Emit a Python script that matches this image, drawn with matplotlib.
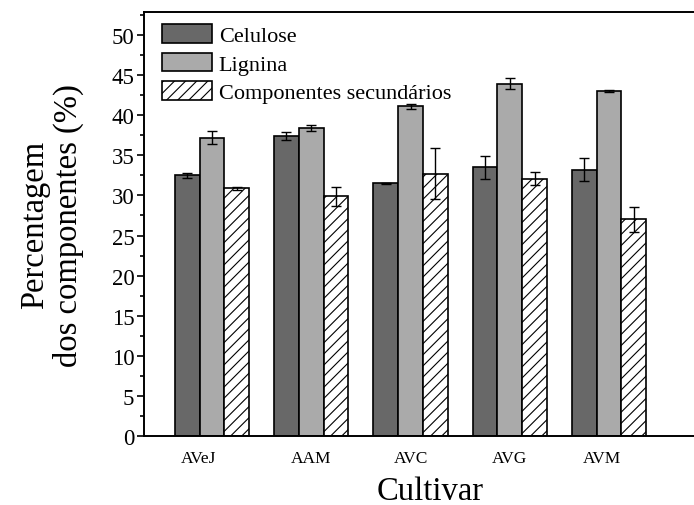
import numpy as np
import matplotlib
matplotlib.use("Agg")
import matplotlib.pyplot as plt
from matplotlib.ticker import MultipleLocator

plt.rcParams['font.family'] = ['Liberation Serif', 'DejaVu Serif']
plt.rcParams['hatch.linewidth'] = 0.8
plt.rcParams['hatch.color'] = 'black'

# composition per cultivar (%), mean and deviation
cultivars = ['AVeJ', 'AAM', 'AVC', 'AVG', 'AVM']
celulose = [32.5, 37.4, 31.5, 33.5, 33.2]
celulose_err = [0.3, 0.5, 0.1, 1.4, 1.4]
lignina = [37.2, 38.4, 41.1, 43.9, 43.0]
lignina_err = [0.8, 0.4, 0.3, 0.7, 0.1]
secundarios = [30.9, 29.9, 32.7, 32.1, 27.0]
secundarios_err = [0.2, 1.2, 3.2, 0.8, 1.5]

label_shift = [-0.14, 0, 0, 0, -0.07]

fig = plt.figure(figsize=(6.94, 5.06), dpi=100)
ax = fig.add_axes([0.2075, 0.1358, 0.7925, 0.8379])

x = np.arange(len(cultivars))
w = 0.25
series = [
    (celulose, celulose_err, 'Celulose', dict(color='#686868')),
    (lignina, lignina_err, 'Lignina', dict(color='#aaaaaa')),
    (secundarios, secundarios_err, 'Componentes secundários', dict(color='white', hatch='///')),
]
for k, (vals, errs, name, style) in enumerate(series):
    pos = x + (k - 1) * w
    ax.bar(pos, vals, w, edgecolor='black', linewidth=1.2, label=name, **style)
    ax.errorbar(pos, vals, yerr=errs, fmt='none', ecolor='black',
                elinewidth=1.0, capsize=3.3, capthick=1.0)

ax.set_xlim(-0.685, 4.856)
ax.set_ylim(0, 52.8)
ax.yaxis.set_major_locator(MultipleLocator(5))
ax.yaxis.set_minor_locator(MultipleLocator(2.5))
ax.tick_params(axis='y', which='major', direction='out', length=5, width=1.2,
               labelsize=16.5, pad=2)
ax.tick_params(axis='y', which='minor', direction='out', length=2.8, width=1.2)
ax.set_xticks(x + np.array(label_shift))
ax.set_xticklabels(cultivars)
ax.tick_params(axis='x', length=0, labelsize=12.5, pad=10)

ax.spines['right'].set_visible(False)
for s in ['left', 'top', 'bottom']:
    ax.spines[s].set_linewidth(1.4)

ax.set_ylabel('Percentagem\ndos componentes (%)', fontsize=23.5, linespacing=1.1)
ax.yaxis.set_label_coords(-0.11, 0.5)
ax.set_xlabel('Cultivar', fontsize=23.5)
ax.xaxis.set_label_coords(0.52, -0.093)

ax.legend(loc='upper left', bbox_to_anchor=(0.033, 0.972), frameon=False,
          fontsize=16, handlelength=2.25, handleheight=0.9,
          handletextpad=0.3, labelspacing=0.3, borderpad=0, borderaxespad=0)

fig.savefig('out.png', dpi=100)
